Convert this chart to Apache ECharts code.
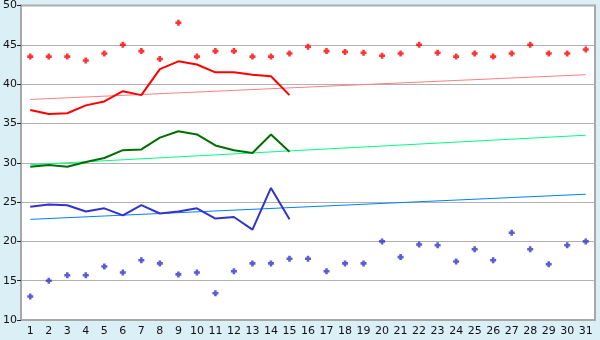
<!DOCTYPE html>
<html><head><meta charset="utf-8">
<script src="https://cdn.jsdelivr.net/npm/echarts@6/dist/echarts.min.js"></script>
<style>html,body{margin:0;padding:0;background:#daeff6;}#c{width:600px;height:340px;}</style>
</head><body><div id="c"></div>
<script>
const categories = ["1","2","3","4","5","6","7","8","9","10","11","12","13","14","15","16","17","18","19","20","21","22","23","24","25","26","27","28","29","30","31"];
const redPoints = [43.5,43.5,43.5,43.0,43.9,45.0,44.2,43.2,47.8,43.5,44.2,44.2,43.5,43.5,43.9,44.75,44.2,44.1,44.0,43.6,43.9,45.0,44.0,43.5,43.9,43.5,43.9,45.0,43.9,43.9,44.4];
const redLine = [36.7,36.2,36.3,37.3,37.8,39.1,38.6,41.9,42.9,42.5,41.5,41.5,41.2,41.0,38.6];
const greenLine = [29.5,29.7,29.5,30.1,30.6,31.6,31.7,33.2,34.0,33.6,32.2,31.6,31.25,33.6,31.4];
const blueLine = [24.4,24.7,24.6,23.8,24.2,23.3,24.6,23.55,23.8,24.2,22.9,23.1,21.5,26.8,22.8];
const bluePoints = [13.0,15.0,15.7,15.7,16.8,16.05,17.6,17.2,15.8,16.05,13.4,16.2,17.2,17.2,17.8,17.8,16.2,17.2,17.2,20.0,18.0,19.6,19.5,17.45,19.0,17.6,21.1,19.0,17.1,19.5,20.0];
// trend lines: values read at first and last category
const redTrendEnds = [38.05, 41.2];
const greenTrendEnds = [29.75, 33.5];
const blueTrendEnds = [22.8, 26.0];
const yTicks = [10,15,20,25,30,35,40,45,50];

function ends(e){ const a = categories.map(()=>null); a[0]=e[0]; a[a.length-1]=e[1]; return a; }
const plus = 'path://M2,0 L5,0 L5,2 L7,2 L7,5 L5,5 L5,7 L2,7 L2,5 L0,5 L0,2 L2,2 Z';
const font = 'DejaVu Sans';
const chart = echarts.init(document.getElementById('c'), null, {renderer:'canvas'});
chart.setOption({
  animation:false,
  backgroundColor:'#daeff6',
  grid:{left:20,right:5,top:5,bottom:20,show:true,backgroundColor:'#ffffff',borderColor:'#a8a8a8',borderWidth:2,containLabel:false},
  xAxis:{type:'category',data:categories,boundaryGap:true,
    axisLine:{lineStyle:{color:'#a8a8a8',width:2}},
    axisTick:{alignWithLabel:true,length:4,lineStyle:{color:'#222'}},
    axisLabel:{color:'#111',fontFamily:font,fontSize:11,margin:6,interval:0},
    splitLine:{show:false}},
  yAxis:{type:'value',min:10,max:50,interval:5,
    axisLine:{show:true,lineStyle:{color:'#a8a8a8',width:2}},
    axisTick:{show:true,length:4,lineStyle:{color:'#222'}},
    axisLabel:{color:'#111',fontFamily:font,fontSize:11,margin:4,
      formatter:v=>yTicks.includes(v)?String(v):''},
    splitLine:{lineStyle:{color:'#b0b0b0',width:1}}},
  series:[
    {type:'line',data:ends(redTrendEnds),connectNulls:true,symbol:'none',lineStyle:{color:'#ff8080',width:1},z:2},
    {type:'line',data:ends(greenTrendEnds),connectNulls:true,symbol:'none',lineStyle:{color:'#00ff80',width:1},z:2},
    {type:'line',data:ends(blueTrendEnds),connectNulls:true,symbol:'none',lineStyle:{color:'#0080ff',width:1},z:2},
    {type:'line',data:redLine,symbol:'none',lineStyle:{color:'#ff0000',width:2},z:3},
    {type:'line',data:greenLine,symbol:'none',lineStyle:{color:'#006e00',width:2},z:3},
    {type:'line',data:blueLine,symbol:'none',lineStyle:{color:'#3333cc',width:2},z:3},
    {type:'scatter',data:redPoints,symbol:plus,symbolSize:6,itemStyle:{color:'#ff0000'},z:4},
    {type:'scatter',data:bluePoints,symbol:plus,symbolSize:6,itemStyle:{color:'#3333cc'},z:4}
  ]
});
</script></body></html>
